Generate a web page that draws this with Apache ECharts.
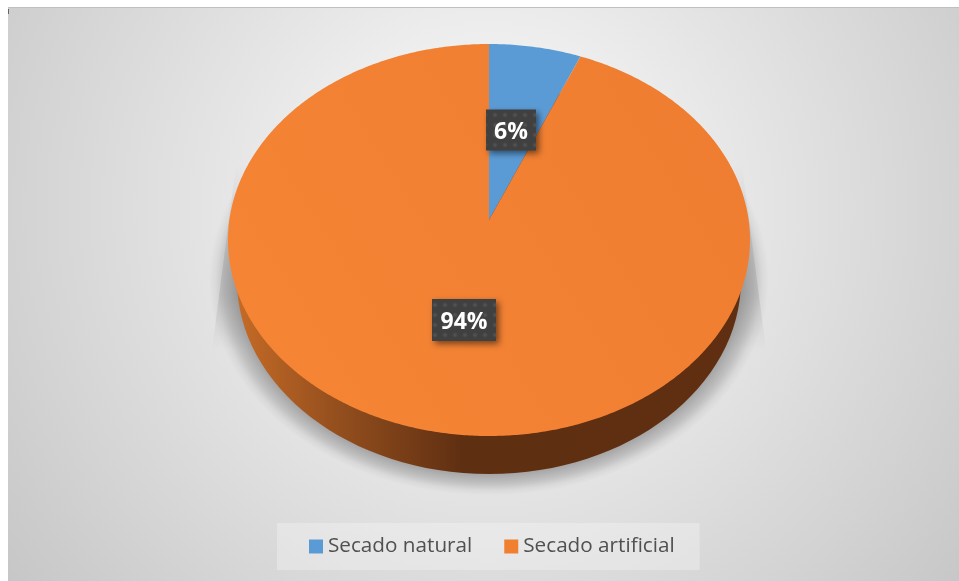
<!DOCTYPE html>
<html>
<head>
<meta charset="utf-8">
<style>
  html, body { margin: 0; padding: 0; background: #fff; }
  #main { width: 959px; height: 581px; }
</style>
<script src="https://cdn.jsdelivr.net/npm/echarts@6/dist/echarts.min.js"></script>
</head>
<body>
<div id="main"></div>
<script>
const categories = ["Secado natural", "Secado artificial"];
const shares = [5.7, 94.3];
const sliceColors = ["#5b9bd5", "#f08030"];

// tilted top face: the apex sits above the ellipse centre because of the perspective
const top3d = { cx: 489, cy: 240, rx: 261, ry: 196, apexY: 220 };
const bottom3d = { cx: 489, cy: 280, rx: 252, ry: 194 };
const shadowSpread = 28;
const labelCentres = [[511, 130], [464, 320]];
const labelSizes = [[50, 41], [64, 42]];

const total = shares.reduce((a, b) => a + b, 0);
const G = echarts.graphic;

function slicePoints(idx) {
  let before = 0;
  for (let i = 0; i < idx; i++) before += shares[i];
  const start = (before / total) * Math.PI * 2;
  const end = ((before + shares[idx]) / total) * Math.PI * 2;
  const pts = [[top3d.cx, top3d.apexY]];
  const steps = Math.ceil((end - start) / 0.01);
  for (let s = 0; s <= steps; s++) {
    const a = start + ((end - start) * s) / steps;
    pts.push([top3d.cx + top3d.rx * Math.sin(a), top3d.cy - top3d.ry * Math.cos(a)]);
  }
  return pts;
}

function dotPattern() {
  const c = document.createElement("canvas");
  c.width = c.height = 10;
  const ctx = c.getContext("2d");
  ctx.fillStyle = "#404040";
  ctx.fillRect(0, 0, 10, 10);
  const g = ctx.createRadialGradient(5, 5, 0, 5, 5, 3);
  g.addColorStop(0, "#565656");
  g.addColorStop(1, "#404040");
  ctx.fillStyle = g;
  ctx.fillRect(2, 2, 6, 6);
  return c;
}
const pattern = dotPattern();

function renderSlice(idx) {
  return function () {
    return {
      type: "polygon",
      shape: { points: slicePoints(idx) },
      style: {
        fill:
          idx === 1
            ? new G.LinearGradient(228, 430, 749, 100, [
                { offset: 0, color: "#f68535" },
                { offset: 1, color: "#ee7d31" },
              ], true)
            : sliceColors[idx],
      },
    };
  };
}

function wedge(points) {
  return {
    type: "polygon",
    shape: { points: points },
    style: {
      fill: new G.LinearGradient(0, 165, 0, 350, [
        { offset: 0, color: "rgba(110,110,110,0)" },
        { offset: 0.3, color: "rgba(110,110,110,0.14)" },
        { offset: 0.7, color: "rgba(110,110,110,0.2)" },
        { offset: 1, color: "rgba(110,110,110,0)" },
      ], true),
    },
  };
}

function renderBody() {
  const rimFill = new G.LinearGradient(top3d.cx - top3d.rx, 0, top3d.cx + top3d.rx, 0, [
    { offset: 0, color: "#c96d27" },
    { offset: 0.2, color: "#96501e" },
    { offset: 0.45, color: "#5f2f12" },
    { offset: 1, color: "#602f11" },
  ], true);
  const outer = bottom3d.rx + shadowSpread;
  const edge = bottom3d.rx / outer;
  return {
    type: "group",
    children: [
      wedge([[236, 165], [212, 350], [300, 350], [300, 165]]),
      wedge([[742, 165], [766, 350], [680, 350], [680, 165]]),
      {
        // soft floor shadow: a circle squashed to the shape of the base
        type: "circle",
        shape: { cx: bottom3d.cx, cy: bottom3d.cy, r: outer },
        originX: bottom3d.cx,
        originY: bottom3d.cy,
        scaleY: bottom3d.ry / bottom3d.rx,
        style: {
          fill: new G.RadialGradient(0.5, 0.5, 0.5, [
            { offset: 0, color: "rgba(90,90,90,0.46)" },
            { offset: edge, color: "rgba(90,90,90,0.46)" },
            { offset: edge + (1 - edge) * 0.45, color: "rgba(90,90,90,0.26)" },
            { offset: edge + (1 - edge) * 0.75, color: "rgba(90,90,90,0.08)" },
            { offset: 1, color: "rgba(90,90,90,0)" },
          ]),
        },
      },
      {
        type: "ellipse",
        shape: { cx: bottom3d.cx, cy: bottom3d.cy, rx: bottom3d.rx, ry: bottom3d.ry },
        style: { fill: rimFill },
      },
    ],
  };
}

function renderLabel(params) {
  const i = params.dataIndex;
  const [x, y] = labelCentres[i];
  const [w, h] = labelSizes[i];
  return {
    type: "group",
    children: [
      {
        type: "rect",
        shape: { x: x - w / 2, y: y - h / 2, width: w, height: h },
        style: {
          fill: { image: pattern, repeat: "repeat" },
          shadowBlur: 6,
          shadowOffsetX: 3,
          shadowOffsetY: 3,
          shadowColor: "rgba(0,0,0,0.5)",
        },
      },
      {
        type: "text",
        x: x,
        y: y + 2,
        style: {
          text: Math.round((shares[i] / total) * 100) + "%",
          fill: "#fff",
          font: 'bold 23px "Open Sans"',
          align: "center",
          verticalAlign: "middle",
        },
      },
    ],
  };
}

const chart = echarts.init(document.getElementById("main"), null, { renderer: "canvas" });
chart.setOption({
  animation: false,
  graphic: [
    {
      type: "rect",
      left: 8,
      top: 8,
      z: -10,
      shape: { width: 951, height: 573 },
      style: {
        fill: new G.RadialGradient(480, 200, 680, [
          { offset: 0, color: "#f4f4f4" },
          { offset: 0.25, color: "#eeeeee" },
          { offset: 1, color: "#c0c0c0" },
        ], true),
      },
    },
    { type: "rect", left: 8, top: 7, z: -9, shape: { width: 951, height: 1 }, style: { fill: "#c0c0c0" } },
    { type: "rect", left: 8, top: 9, z: -9, shape: { width: 1, height: 5 }, style: { fill: "#666" } },
  ],
  legend: {
    data: categories,
    left: 277,
    top: 523,
    padding: [13, 25, 13, 32],
    backgroundColor: "rgba(255,255,255,0.28)",
    icon: "rect",
    itemWidth: 14,
    itemHeight: 14,
    itemGap: 32,
    selectedMode: false,
    textStyle: { color: "#505050", fontSize: 20.7, fontFamily: "Open Sans" },
  },
  series: [
    { type: "custom", name: "body", coordinateSystem: "none", silent: true, z: 1, data: [1], renderItem: renderBody },
    ...categories.map((name, i) => ({
      type: "custom",
      name: name,
      coordinateSystem: "none",
      silent: true,
      z: 2,
      itemStyle: { color: sliceColors[i] },
      data: [shares[i]],
      renderItem: renderSlice(i),
    })),
    { type: "custom", name: "labels", coordinateSystem: "none", silent: true, z: 3, data: shares, renderItem: renderLabel },
  ],
});
</script>
</body>
</html>
